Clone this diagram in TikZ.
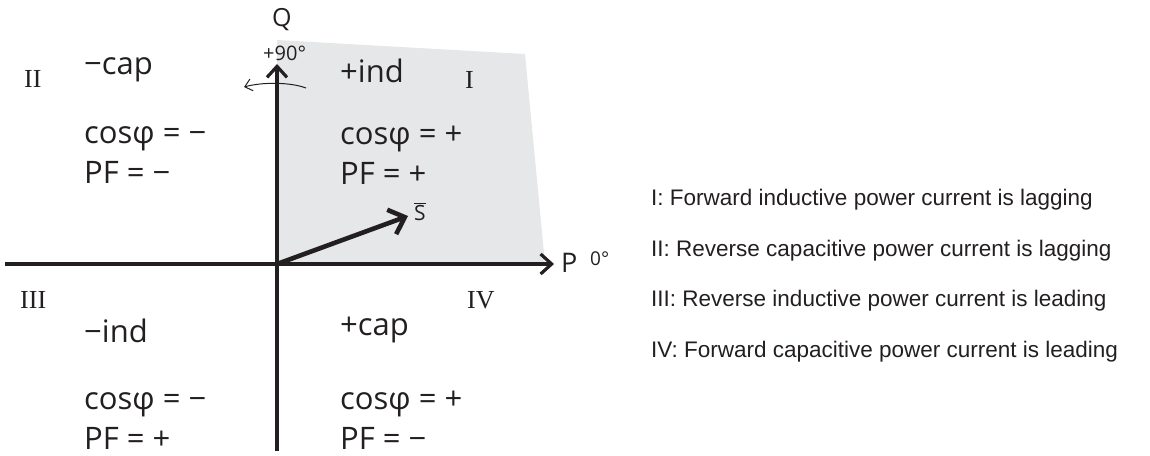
\documentclass[tikz,border=0pt]{standalone}
\usepackage{fontspec}
\setmainfont{Open Sans}
\newfontfamily\romanfont{Liberation Serif}
\newfontfamily\arialfont{Liberation Sans}
\usetikzlibrary{arrows.meta}
\definecolor{quadgray}{RGB}{230,231,232}
\definecolor{ink}{RGB}{35,31,32}
\begin{document}
\begin{tikzpicture}[x=1pt,y=-1pt,
  txt/.style={anchor=base west,inner sep=0pt,text=ink,font=\fontsize{31}{31}\selectfont},
  rom/.style={anchor=base west,inner sep=0pt,text=ink,font=\romanfont\fontsize{26}{26}\selectfont},
  note/.style={anchor=base west,inner sep=0pt,text=ink,font=\arialfont\fontsize{22.5}{22.5}\selectfont},
  lbl/.style={anchor=base west,inner sep=0pt,text=ink},
  axisline/.style={draw=ink,line width=3.2pt,-{Straight Barb[length=11pt,width=20pt,line width=3.2pt]}},
  vecline/.style={draw=ink,line width=4.6pt,-{Straight Barb[length=14pt,width=26pt,line width=4.6pt]}},
  turnline/.style={draw=ink,line width=1pt,-{Straight Barb[length=7pt,width=12pt,line width=1pt]}}]
\useasboundingbox (0,0) rectangle (1150,455);
% shaded first quadrant
\fill[quadgray] (277,40) -- (525,54) -- (545,264) -- (277,264) -- cycle;
% coordinates
\coordinate (O) at (277,264);
\coordinate (Qtip) at (277,64);
\coordinate (Qbot) at (277,451);
\coordinate (Pleft) at (5,264);
\coordinate (Ptip) at (554,264);
\coordinate (Stip) at (408,216);
\coordinate (turnR) at (306,88);
\coordinate (turnL) at (244,87);
% axes
\draw[draw=ink,line width=3.2pt] (O) -- (Qbot);
\draw[axisline] (Qbot) -- (Qtip);
\draw[axisline] (Pleft) -- (Ptip);
% vector S
\draw[vecline] (O) -- (Stip);
% rotation arrow
\draw[turnline] (turnR) .. controls (290,82) and (262,82) .. (turnL);
% axis labels
\node[lbl,font=\fontsize{25}{25}\selectfont] (Q) at (272,27) {Q};
\node[lbl,font=\fontsize{20}{20}\selectfont] (deg90) at (263,60) {+90°};
\node[lbl,font=\fontsize{27}{27}\selectfont] (P) at (561,272) {P};
\node[lbl,font=\fontsize{19}{19}\selectfont] (deg0) at (590,265) {0°};
\node[lbl,font=\fontsize{21}{21}\selectfont] (S) at (414,220) {$\overline{\hbox{S}}$};
% roman numerals
\node[rom] (qI) at (465,88) {I};
\node[rom] (qII) at (24,87) {II};
\node[rom] (qIII) at (20,308) {III};
\node[rom] (qIV) at (467,308) {IV};
% quadrant texts
\node[txt] (capm) at (84,74) {−cap};
\node[txt] (cos2) at (84,143) {cosφ = −};
\node[txt] (pf2) at (84,183) {PF = −};
\node[txt] (indp) at (340,82) {+ind};
\node[txt] (cos1) at (340,144) {cosφ = +};
\node[txt] (pf1) at (340,184) {PF = +};
\node[txt] (indm) at (84,342) {−ind};
\node[txt] (cos3) at (84,409) {cosφ = −};
\node[txt] (pf3) at (84,449) {PF = +};
\node[txt] (capp) at (340,335) {+cap};
\node[txt] (cos4) at (340,409) {cosφ = +};
\node[txt] (pf4) at (340,449) {PF = −};
% notes
\node[note] (n1) at (651,205) {I: Forward inductive power current is lagging};
\node[note] (n2) at (651,256) {II: Reverse capacitive power current is lagging};
\node[note] (n3) at (651,306) {III: Reverse inductive power current is leading};
\node[note] (n4) at (651,357) {IV: Forward capacitive power current is leading};
\end{tikzpicture}
\end{document}
